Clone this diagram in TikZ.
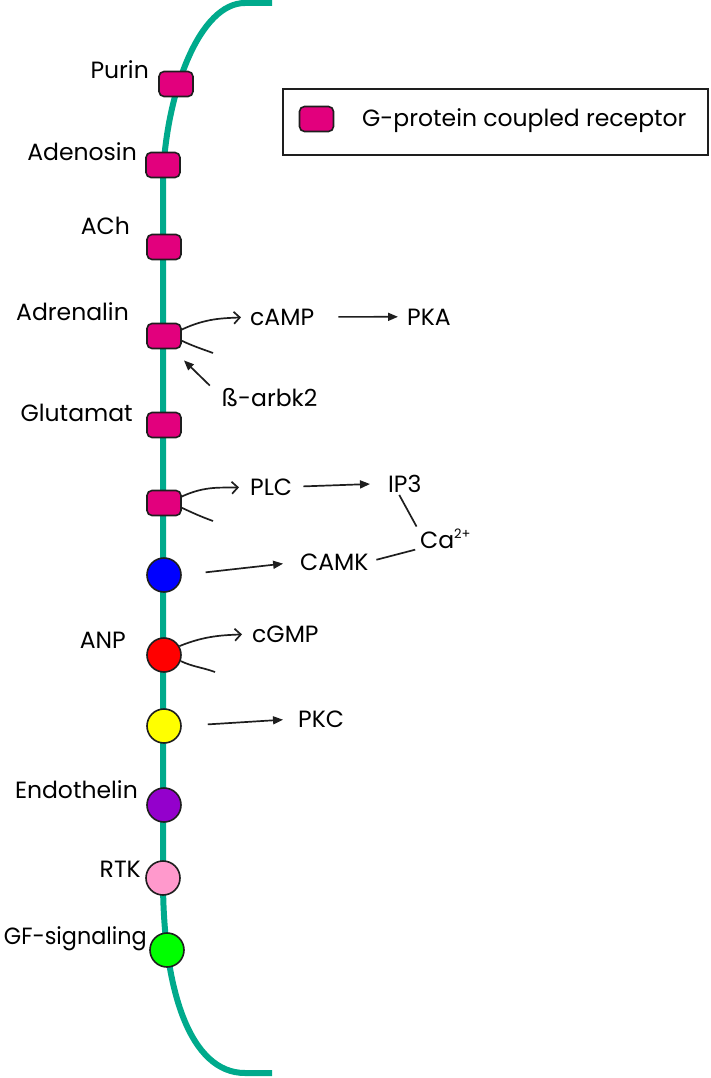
\documentclass[tikz,border=0pt]{standalone}
\usepackage{fontspec}
\setmainfont{Poppins}
\usetikzlibrary{arrows.meta}
\definecolor{membranec}{RGB}{0,170,140}
\definecolor{gpcrc}{RGB}{226,0,125}
\definecolor{bluec}{RGB}{0,0,255}
\definecolor{redc}{RGB}{255,0,0}
\definecolor{yellowc}{RGB}{255,255,0}
\definecolor{purplec}{RGB}{148,0,204}
\definecolor{pinkc}{RGB}{255,153,204}
\definecolor{greenc}{RGB}{0,255,0}
\definecolor{edgec}{RGB}{30,30,30}
\begin{document}
\begin{tikzpicture}[x=1pt,y=-1pt,
  membrane/.style={line width=6pt, draw=membranec},
  gpcr/.style={draw=edgec, line width=1.6pt, fill=gpcrc, rounded corners=5pt,
    minimum width=34pt, minimum height=25pt, inner sep=0pt},
  rec/.style={circle, draw=edgec, line width=1.6pt, minimum size=34pt, inner sep=0pt},
  lbl/.style={font=\fontsize{23.5}{26}\selectfont, inner sep=0pt, anchor=base east},
  txt/.style={font=\fontsize{23.5}{26}\selectfont, inner sep=0pt, anchor=base west},
  arr/.style={line width=1.7pt, draw=edgec, -{Triangle[length=10pt,width=8pt]}},
  carr/.style={line width=1.7pt, draw=edgec, -{Straight Barb[length=6pt,width=12pt]}},
  plain/.style={line width=1.7pt, draw=edgec},
  legendbox/.style={draw=edgec, line width=1.4pt, minimum width=425pt, minimum height=66pt, inner sep=0pt}
]
\useasboundingbox (0,0) rectangle (711,1078);

% membrane
\draw[membrane] (272,3) -- (245,3) .. controls (200,3) and (167,90) .. (163,175)
  -- (163,880) .. controls (163,990) and (190,1073) .. (245,1073) -- (272,1073);

% receptors
\node[gpcr] (purin) at (176,84) {};
\node[gpcr] (adeno) at (163,165) {};
\node[gpcr] (ach) at (164,247) {};
\node[gpcr] (adren) at (164,336) {};
\node[gpcr] (glut) at (164,425) {};
\node[gpcr] (plcr) at (164,503) {};
\node[rec, fill=bluec] (blue) at (164,575) {};
\node[rec, fill=redc] (anpr) at (164,655) {};
\node[rec, fill=yellowc] (yell) at (164,726) {};
\node[rec, fill=purplec] (endo) at (164,805) {};
\node[rec, fill=pinkc] (rtk) at (163,878) {};
\node[rec, fill=greenc] (gf) at (167,950) {};

% labels
\node[lbl] (lpurin) at (149,79) {Purin};
\node[lbl] (ladeno) at (137,161) {Adenosin};
\node[lbl] (lach) at (130,234) {ACh};
\node[lbl] (ladren) at (129,320) {Adrenalin};
\node[lbl] (lglut) at (133,421) {Glutamat};
\node[lbl] (lanp) at (126,648) {ANP};
\node[lbl] (lendo) at (138,798) {Endothelin};
\node[lbl] (lrtk) at (141,877) {RTK};
\node[lbl] (lgf) at (147,944) {\scalebox{0.95}[1]{GF-signaling}};

% pathway texts
\node[txt] (camp) at (250,325) {cAMP};
\node[txt] (pka) at (407,325) {PKA};
\node[txt] (barbk) at (222,406) {ß-arbk2};
\node[txt] (plc) at (250,495) {PLC};
\node[txt] (ip3) at (388,492) {IP3};
\node[txt] (ca) at (420,548) {Ca\textsuperscript{\fontsize{13}{14}\selectfont 2+}};
\node[txt] (camk) at (300,570) {CAMK};
\node[txt] (cgmp) at (252,642) {cGMP};
\node[txt] (pkc) at (298,727) {PKC};

% free ends of the receptor fork lines
\coordinate (adrenT) at (213,353);
\coordinate (plcT) at (213,521);
\coordinate (anpT) at (215,672);

% connectors
\draw[carr, shorten >=9pt] (adren.20) to[out=25,in=183] (camp.west);
\draw[plain] (adren.-15) to[out=-25,in=160] (adrenT);
\draw[arr, shorten <=24pt, shorten >=9pt] (camp.east) -- (pka.west);
\draw[arr, shorten <=3pt, shorten >=3pt] ([shift={(-10,0)}]barbk.north west) -- ([shift={(0,9)}]adren.south east);

\draw[carr, shorten >=11pt] (plcr.20) to[out=25,in=183] (plc.west);
\draw[plain] (plcr.-15) to[out=-25,in=160] (plcT);
\draw[arr, shorten <=11pt, shorten >=18pt] (plc.east) -- (ip3.west);
\draw[plain, shorten <=3pt, shorten >=3pt] ([xshift=-7pt]ip3.south) -- ([xshift=-2pt]ca.north west);
\draw[plain, shorten <=8pt, shorten >=5pt] (camk.east) -- (ca.south west);
\draw[arr, shorten <=24pt, shorten >=17pt] (blue.east) -- (camk.west);

\draw[carr, shorten >=10pt] (anpr.30) to[out=22,in=183] (cgmp.west);
\draw[plain] (anpr.-20) to[out=-25,in=160] (anpT);
\draw[arr, shorten <=26pt, shorten >=15pt] (yell.east) -- (pkc.west);

% legend
\node[legendbox] (legend) at (495.5,122) {};
\node[gpcr] (legicon) at (316.5,119) {};
\node[txt] (legtext) at (362,127) {G-protein coupled receptor};
\end{tikzpicture}
\end{document}
